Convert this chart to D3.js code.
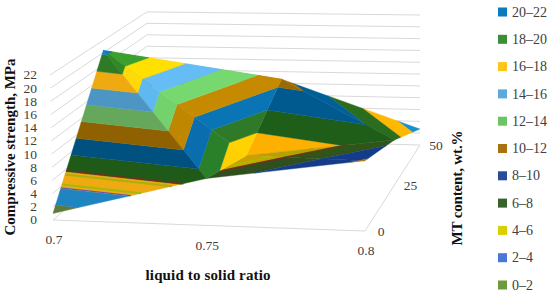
<!DOCTYPE html>
<html>
<head>
<meta charset="utf-8">
<script src="https://cdn.jsdelivr.net/npm/d3@7"></script>
<style>
  html, body { margin: 0; padding: 0; background: #fff; }
  svg { display: block; }
  text { font-family: "Liberation Serif", serif; }
</style>
</head>
<body>
<div id="chart"></div>
<script>
const ratios = [0.7, 0.75, 0.8];
const contents = [0, 25, 50];
// compressive strength, rows follow contents, columns follow ratios
const strength = [
  [1.0, 7.0, 10.3],
  [20.5, 4.0, 7.1],
  [9.0, 10.7, 2.7]
];
const strengthTicks = [0, 2, 4, 6, 8, 10, 12, 14, 16, 18, 20, 22];
const bandLabels = ["0–2", "2–4", "4–6", "6–8", "8–10", "10–12", "12–14", "14–16", "16–18", "18–20", "20–22"];
const legendColors = ["#6c9a3c", "#4a78d8", "#d8d000", "#37622a", "#2a4a9a", "#a8720e", "#6cc462", "#5ba9df", "#ffc51a", "#3a8f35", "#0a7bbd"];

// the surface, one triangle per entry as [row, col] corners, back ones first
const facets = [
  { name: "hidden", corners: [[1, 0], [2, 0], [2, 1]] },
  { name: "backRight", corners: [[2, 1], [1, 2], [2, 2]] },
  { name: "backMid", corners: [[1, 1], [1, 2], [2, 1]] },
  { name: "top", corners: [[1, 0], [1, 1], [2, 1]] },
  { name: "frontRight", corners: [[0, 2], [1, 2], [1, 1]] },
  { name: "frontMid", corners: [[0, 1], [0, 2], [1, 1]] },
  { name: "fold", corners: [[1, 0], [0, 1], [1, 1]] },
  { name: "left", corners: [[0, 0], [0, 1], [1, 0]] }
];
// band colours for each facet, they change with the lighting
const shades = {
  hidden: legendColors,
  backRight: ["#6c9a3c", "#1a8fd0", "#ffb800", "#2a6d1f", "#005f96", "#9a6a00", "#6cc462", "#5ba9df", "#ffc51a", "#3a8f35", "#0a7bbd"],
  backMid: ["#6c9a3c", "#1a8fd0", "#fdb000", "#1f5e18", "#005a90", "#9a6a00", "#6cc462", "#5ba9df", "#ffc51a", "#3a8f35", "#0a7bbd"],
  top: ["#6c9a3c", "#1a8fd0", "#ffd200", "#2e7a28", "#0a75b5", "#c58a00", "#78d870", "#66bdf5", "#ffe000", "#3ca030", "#0a7bbd"],
  frontRight: ["#6c9a3c", "#4a78d8", "#c09c00", "#2f5518", "#143c88", "#a8720e", "#6cc462", "#5ba9df", "#ffc51a", "#3a8f35", "#0a7bbd"],
  frontMid: ["#6c9a3c", "#4a78d8", "#c8a200", "#2f4f1f", "#143c88", "#a8720e", "#6cc462", "#5ba9df", "#ffc51a", "#3a8f35", "#0a7bbd"],
  fold: ["#6c9a3c", "#1a8fd0", "#ffd000", "#2a8028", "#0a6eae", "#bf8600", "#74d26c", "#60b8f0", "#ffda08", "#2f8a25", "#0a7bbd"],
  left: ["#5f7a3a", "#1f85c0", "#eeaa10", "#1f5a18", "#005080", "#8f6100", "#65a85c", "#4d96c4", "#eeaa10", "#2f7a24", "#1080c0"]
};
// thin coloured seams along some contours, as in the original export
const seams = [
  { facet: "left", level: 4.05, color: "#6a58b0", width: 1.2 },
  { facet: "left", level: 4.45, color: "#a4b810", width: 2 },
  { facet: "left", level: 5.65, color: "#a8b010", width: 2 },
  { facet: "left", level: 6.1, color: "#74301a", width: 1.4 },
  { facet: "frontMid", level: 5.4, color: "#a0c000", width: 1.3 },
  { facet: "frontMid", level: 6.1, color: "#74301a", width: 1.5 },
  { facet: "frontRight", level: 5.4, color: "#98b000", width: 1.2 },
  { facet: "frontRight", level: 6.1, color: "#6a3a18", width: 1.3 }
];

const width = 550, height = 296;
const svg = d3.select("#chart").append("svg").attr("width", width).attr("height", height);

const u = d3.scaleLinear().domain([0.7, 0.8]).range([0, 1]);
const t = d3.scaleLinear().domain([0, 50]).range([0, 1]);
const rise = d3.scaleLinear().domain([0, 22]).range([0, 145]);

// floor corners on the page: front left, front right, back right, back left
const A = [53, 220], B = [365, 231], C = [420, 145], D = [147, 138];

function homography() {
  const dx1 = B[0] - C[0], dx2 = D[0] - C[0], sx = A[0] - B[0] + C[0] - D[0];
  const dy1 = B[1] - C[1], dy2 = D[1] - C[1], sy = A[1] - B[1] + C[1] - D[1];
  const den = dx1 * dy2 - dx2 * dy1;
  const g = (sx * dy2 - dx2 * sy) / den;
  const h = (dx1 * sy - sx * dy1) / den;
  return (a, b) => {
    const w = g * a + h * b + 1;
    return {
      x: ((B[0] - A[0] + g * B[0]) * a + (D[0] - A[0] + h * D[0]) * b + A[0]) / w,
      y: ((B[1] - A[1] + g * B[1]) * a + (D[1] - A[1] + h * D[1]) * b + A[1]) / w,
      w
    };
  };
}
const floor = homography();

function project(ratio, content, value) {
  const f = floor(u(ratio), t(content));
  return [f.x, f.y - rise(value) / f.w];
}

const polyline = d3.line();
const closed = d3.line().curve(d3.curveLinearClosed);

// walls
const walls = svg.append("g").attr("fill", "none").attr("stroke", "#d9d9d9").attr("stroke-width", 1);
const frontLean = d3.scaleLinear().domain([0, 22]).range([0, -3]);
strengthTicks.forEach(v => {
  const front = project(0.7, 0, v);
  front[0] += frontLean(v);
  walls.append("path").attr("d", polyline([front, project(0.7, 50, v), project(0.8, 50, v)]));
});
walls.append("path").attr("d", polyline([project(0.7, 0, 0), project(0.8, 0, 0), project(0.8, 50, 0)]));

// keep the part of a triangle that lies on one side of a strength level
function clip(points, level, keepAbove) {
  const out = [];
  points.forEach((p, i) => {
    const q = points[(i + 1) % points.length];
    const inP = keepAbove ? p.v >= level : p.v <= level;
    const inQ = keepAbove ? q.v >= level : q.v <= level;
    if (inP) out.push(p);
    if (inP !== inQ) {
      const k = (level - p.v) / (q.v - p.v);
      out.push({ x: p.x + (q.x - p.x) * k, y: p.y + (q.y - p.y) * k, v: level });
    }
  });
  return out;
}

function facetPoints(facet) {
  return facet.corners.map(([r, c]) => {
    const v = strength[r][c];
    const [x, y] = project(ratios[c], contents[r], v);
    return { x, y, v };
  });
}

const surface = svg.append("g");
facets.forEach(facet => {
  const points = facetPoints(facet);
  bandLabels.forEach((label, i) => {
    const lo = i * 2, hi = lo + 2;
    const band = clip(clip(points, lo, true), hi, false);
    if (band.length < 3) return;
    const color = shades[facet.name][i];
    surface.append("path")
      .attr("d", closed(band.map(p => [p.x, p.y])))
      .attr("fill", color)
      .attr("stroke", color)
      .attr("stroke-width", 0.4);
  });
  seams.filter(s => s.facet === facet.name).forEach(s => {
    const line = clip(points, s.level, true).filter(p => p.v === s.level);
    if (line.length < 2) return;
    surface.append("path")
      .attr("d", polyline(line.map(p => [p.x, p.y])))
      .attr("fill", "none")
      .attr("stroke", s.color)
      .attr("stroke-width", s.width);
  });
});

// tick labels
const tickColor = "#404040";
const labels = svg.append("g").attr("font-size", 13.5).attr("fill", tickColor);
const tickY = d3.scaleLinear().domain([0, 22]).range([220, 75]);
labels.selectAll(".vtick").data(strengthTicks).enter().append("text")
  .attr("class", "vtick")
  .attr("x", 37)
  .attr("y", d => tickY(d))
  .attr("dy", "0.33em")
  .attr("text-anchor", "end")
  .text(d => d);
labels.selectAll(".xtick").data(ratios).enter().append("text")
  .attr("class", "xtick")
  .attr("x", d => project(d, 0, 0)[0] + 1)
  .attr("y", d => project(d, 0, 0)[1] + 20)
  .attr("dy", "0.33em")
  .attr("text-anchor", "middle")
  .text(d => d);
labels.selectAll(".ztick").data(contents).enter().append("text")
  .attr("class", "ztick")
  .attr("x", d => project(0.8, d, 0)[0] + 16)
  .attr("y", d => project(0.8, d, 0)[1] + 1)
  .attr("dy", "0.33em")
  .attr("text-anchor", "middle")
  .text(d => d);

// axis titles
const titles = svg.append("g").attr("font-size", 15).attr("font-weight", "bold").attr("fill", "#111").attr("text-anchor", "middle");
titles.append("text").attr("transform", "translate(15,147) rotate(-90)").attr("textLength", 177).text("Compressive strength, MPa");
titles.append("text").attr("x", 208).attr("y", 280).attr("textLength", 125).text("liquid to solid ratio");
titles.append("text").attr("transform", "translate(462,188) rotate(-90)").attr("textLength", 115).text("MT content, wt.%");

// legend, top band first
const legendY = d3.scalePoint().domain(d3.range(11)).range([285, 12]);
const legend = svg.append("g").selectAll("g").data(bandLabels).enter().append("g")
  .attr("transform", (d, i) => `translate(498,${legendY(i)})`);
legend.append("rect").attr("x", 0).attr("y", -4.5).attr("width", 9).attr("height", 9).attr("fill", (d, i) => legendColors[i]);
legend.append("text").attr("x", 14).attr("dy", "0.33em").attr("font-size", 14).attr("fill", tickColor).text(d => d);
</script>
</body>
</html>
